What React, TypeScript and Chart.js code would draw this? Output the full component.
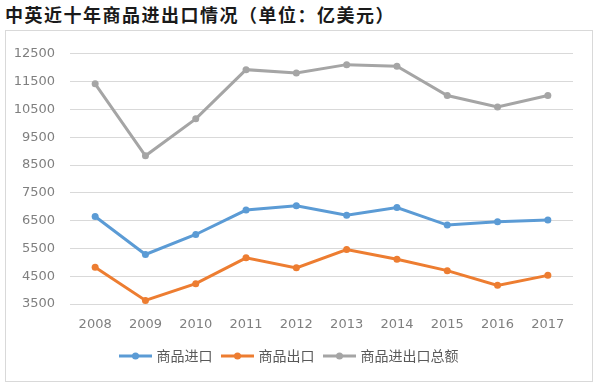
import React, { useEffect, useRef } from "react";
import { Chart, registerables } from "chart.js";

Chart.register(...registerables);

const years = ["2008", "2009", "2010", "2011", "2012", "2013", "2014", "2015", "2016", "2017"];
const importValues = [6650, 5280, 6000, 6880, 7030, 6690, 6970, 6340, 6460, 6520];
const exportValues = [4820, 3630, 4230, 5160, 4800, 5460, 5110, 4700, 4170, 4530];
const totalValues = [11420, 8830, 10160, 11930, 11810, 12110, 12050, 11000, 10590, 11000];
const seriesNames = ["商品进口", "商品出口", "商品进出口总额"];
const seriesColors = ["#5B9BD5", "#ED7D31", "#A5A5A5"];
const yTicks = [3500, 4500, 5500, 6500, 7500, 8500, 9500, 10500, 11500, 12500];

function makeLegendIcon(color: string): HTMLCanvasElement {
  const c = document.createElement("canvas");
  c.width = 40;
  c.height = 10;
  const ctx = c.getContext("2d")!;
  ctx.strokeStyle = color;
  ctx.lineWidth = 3;
  ctx.beginPath();
  ctx.moveTo(4, 5);
  ctx.lineTo(37, 5);
  ctx.stroke();
  ctx.fillStyle = color;
  ctx.beginPath();
  ctx.arc(20.5, 5, 3.5, 0, Math.PI * 2);
  ctx.fill();
  return c;
}

export default function App() {
  const ref = useRef<HTMLCanvasElement | null>(null);

  useEffect(() => {
    if (!ref.current) return;
    const icons = seriesColors.map(makeLegendIcon);
    const data = [importValues, exportValues, totalValues];
    const chart = new Chart(ref.current, {
      type: "line",
      data: {
        labels: years,
        datasets: data.map((d, i) => ({
          label: seriesNames[i],
          data: d,
          borderColor: seriesColors[i],
          backgroundColor: seriesColors[i],
          borderWidth: 3,
          pointRadius: 3.5,
          pointBorderWidth: 0,
          pointStyle: "circle",
          tension: 0,
        })),
      },
      options: {
        animation: false,
        responsive: false,
        maintainAspectRatio: false,
        layout: { padding: { top: 21, right: 19, bottom: 8, left: 0 } },
        plugins: {
          tooltip: { enabled: false },
          legend: {
            position: "bottom",
            labels: {
              usePointStyle: true,
              pointStyleWidth: 29,
              padding: 10,
              color: "#595959",
              font: { family: "'Noto Sans CJK SC', sans-serif", size: 14 },
              generateLabels: (ch: any) =>
                ch.data.datasets.map((ds: any, i: number) => ({
                  text: ds.label,
                  fillStyle: seriesColors[i],
                  strokeStyle: seriesColors[i],
                  pointStyle: icons[i],
                  fontColor: "#595959",
                  lineWidth: 0,
                  hidden: false,
                  datasetIndex: i,
                })),
            },
          },
        },
        scales: {
          x: {
            offset: true,
            grid: { display: false, drawTicks: false },
            border: { display: false },
            ticks: {
              color: "#7f7f7f",
              padding: 13,
              font: { family: "'DejaVu Sans', sans-serif", size: 13 },
            },
            afterFit: (s: any) => {
              s.height = 35;
            },
          },
          y: {
            min: 3500,
            max: 12500,
            afterBuildTicks: (s: any) => {
              s.ticks = yTicks.map((v) => ({ value: v }));
            },
            grid: { color: "#d9d9d9", lineWidth: 1, drawTicks: false },
            border: { display: false },
            ticks: {
              color: "#7f7f7f",
              padding: 15,
              font: { family: "'DejaVu Sans', sans-serif", size: 13 },
              callback: (v: any) => String(v),
            },
            afterFit: (s: any) => {
              s.width = 64;
            },
          },
        },
      },
    });
    return () => chart.destroy();
  }, []);

  return (
    <div
      style={{
        position: "fixed",
        left: 0,
        top: 0,
        width: 600,
        height: 388,
        background: "#ffffff",
      }}
    >
      <div
        style={{
          position: "absolute",
          left: 5,
          top: 3,
          fontFamily: "'Noto Sans CJK SC', sans-serif",
          fontSize: 18,
          fontWeight: 700,
          letterSpacing: 1.5,
          color: "#1a1a1a",
          lineHeight: "22px",
          whiteSpace: "nowrap",
        }}
      >
        中英近十年商品进出口情况（单位：亿美元）
      </div>
      <div
        style={{
          position: "absolute",
          left: 5,
          top: 30,
          width: 586,
          height: 350,
          border: "1px solid #d9d9d9",
        }}
      >
        <canvas ref={ref} width={586} height={350} style={{ display: "block", width: 586, height: 350 }} />
      </div>
    </div>
  );
}
